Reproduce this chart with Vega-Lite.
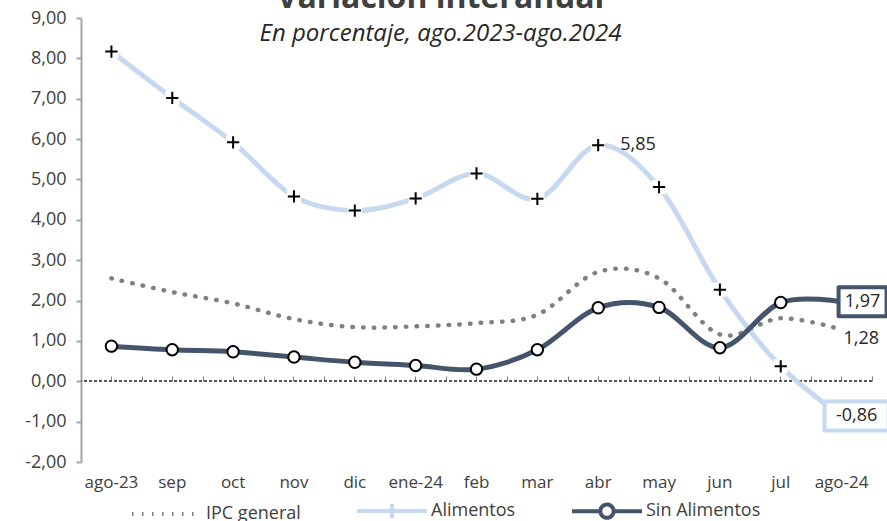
{
  "$schema": "https://vega.github.io/schema/vega-lite/v6.json",
  "autosize": {"type": "none"},
  "width": 791,
  "height": 444,
  "padding": {"left": 81, "top": 18, "right": 16, "bottom": 59},
  "background": "white",
  "config": {
    "font": "Open Sans",
    "view": {"stroke": null},
    "axis": {"labelFont": "Open Sans", "labelColor": "#404040", "grid": false}
  },
  "title": {
    "text": "Variación interanual",
    "subtitle": "En porcentaje, ago.2023-ago.2024",
    "anchor": "middle",
    "dx": -36,
    "offset": -38,
    "font": "Open Sans",
    "fontSize": 32,
    "fontWeight": "bold",
    "color": "#404040",
    "subtitleFont": "Open Sans",
    "subtitleFontSize": 24,
    "subtitleFontStyle": "italic",
    "subtitleColor": "#262626",
    "subtitlePadding": 7
  },
  "datasets": {
    "series": [
      {"mes": "ago-23", "serie": "IPC general", "valor": 2.55},
      {"mes": "sep", "serie": "IPC general", "valor": 2.21},
      {"mes": "oct", "serie": "IPC general", "valor": 1.93},
      {"mes": "nov", "serie": "IPC general", "valor": 1.54},
      {"mes": "dic", "serie": "IPC general", "valor": 1.34},
      {"mes": "ene-24", "serie": "IPC general", "valor": 1.36},
      {"mes": "feb", "serie": "IPC general", "valor": 1.44},
      {"mes": "mar", "serie": "IPC general", "valor": 1.65},
      {"mes": "abr", "serie": "IPC general", "valor": 2.71},
      {"mes": "may", "serie": "IPC general", "valor": 2.55},
      {"mes": "jun", "serie": "IPC general", "valor": 1.16},
      {"mes": "jul", "serie": "IPC general", "valor": 1.56},
      {"mes": "ago-24", "serie": "IPC general", "valor": 1.28},
      {"mes": "ago-23", "serie": "Alimentos", "valor": 8.17},
      {"mes": "sep", "serie": "Alimentos", "valor": 7.02},
      {"mes": "oct", "serie": "Alimentos", "valor": 5.92},
      {"mes": "nov", "serie": "Alimentos", "valor": 4.58},
      {"mes": "dic", "serie": "Alimentos", "valor": 4.23},
      {"mes": "ene-24", "serie": "Alimentos", "valor": 4.53},
      {"mes": "feb", "serie": "Alimentos", "valor": 5.15},
      {"mes": "mar", "serie": "Alimentos", "valor": 4.52},
      {"mes": "abr", "serie": "Alimentos", "valor": 5.85},
      {"mes": "may", "serie": "Alimentos", "valor": 4.81},
      {"mes": "jun", "serie": "Alimentos", "valor": 2.27},
      {"mes": "jul", "serie": "Alimentos", "valor": 0.37},
      {"mes": "ago-24", "serie": "Alimentos", "valor": -0.86},
      {"mes": "ago-23", "serie": "Sin Alimentos", "valor": 0.87},
      {"mes": "sep", "serie": "Sin Alimentos", "valor": 0.78},
      {"mes": "oct", "serie": "Sin Alimentos", "valor": 0.73},
      {"mes": "nov", "serie": "Sin Alimentos", "valor": 0.6},
      {"mes": "dic", "serie": "Sin Alimentos", "valor": 0.47},
      {"mes": "ene-24", "serie": "Sin Alimentos", "valor": 0.39},
      {"mes": "feb", "serie": "Sin Alimentos", "valor": 0.3},
      {"mes": "mar", "serie": "Sin Alimentos", "valor": 0.78},
      {"mes": "abr", "serie": "Sin Alimentos", "valor": 1.82},
      {"mes": "may", "serie": "Sin Alimentos", "valor": 1.83},
      {"mes": "jun", "serie": "Sin Alimentos", "valor": 0.83},
      {"mes": "jul", "serie": "Sin Alimentos", "valor": 1.95},
      {"mes": "ago-24", "serie": "Sin Alimentos", "valor": 1.97}
    ],
    "etiquetas": [
      {"mes": "abr", "serie": "Alimentos", "valor": 5.85, "texto": "5,85"},
      {"mes": "ago-24", "serie": "Sin Alimentos", "valor": 1.97, "texto": "1,97"},
      {"mes": "ago-24", "serie": "IPC general", "valor": 1.28, "texto": "1,28"},
      {"mes": "ago-24", "serie": "Alimentos", "valor": -0.86, "texto": "-0,86"}
    ]
  },
  "data": {"name": "series"},
  "resolve": {"axis": {"x": "independent"}},
  "layer": [
    {
      "mark": {"type": "rule", "color": "#595959", "strokeWidth": 1, "strokeDash": [3, 2]},
      "encoding": {
        "y": {"datum": 0, "type": "quantitative", "scale": {"domain": [-2, 9], "nice": false, "zero": false}}
      }
    },
    {
      "transform": [{"filter": "datum.serie == 'IPC general'"}],
      "mark": {"type": "text", "text": ""},
      "encoding": {
        "x": {"field": "mes", "type": "ordinal", "sort": null,
              "scale": {"type": "band", "domain": ["ago-23","sep","oct","nov","dic","ene-24","feb","mar","abr","may","jun","jul","ago-24"], "paddingInner": 0, "paddingOuter": 0},
              "axis": {"orient": "top", "offset": -363, "domain": false, "ticks": true, "tickBand": "extent", "tickSize": 5, "tickColor": "#7f7f7f", "tickWidth": 1, "labels": false, "title": null}},
        "y": {"field": "valor", "type": "quantitative"}
      }
    },
    {
      "transform": [{"filter": "datum.serie == 'IPC general'"}],
      "mark": {"type": "text", "text": ""},
      "encoding": {
        "x": {"field": "mes", "type": "ordinal", "sort": null,
              "axis": {"orient": "top", "offset": -363, "domain": false, "ticks": true, "tickSize": 5, "tickColor": "#7f7f7f", "tickWidth": 1, "labels": false, "title": null}},
        "y": {"field": "valor", "type": "quantitative"}
      }
    },
    {
      "transform": [{"filter": "datum.serie == 'IPC general'"}],
      "mark": {"type": "line", "interpolate": "cardinal", "color": "#808080", "strokeWidth": 4.5, "strokeDash": [0.5, 10.2], "strokeCap": "round"},
      "encoding": {
        "x": {"field": "mes", "type": "ordinal", "sort": null,
              "axis": {"orient": "bottom", "domain": false, "ticks": false, "labelPadding": 12, "labelFontSize": 17, "labelAngle": 0, "labelColor": "#404040", "title": null}},
        "y": {"field": "valor", "type": "quantitative",
              "axis": {"values": [-2,-1,0,1,2,3,4,5,6,7,8,9],
                       "labelExpr": "replace(replace(format(datum.value, '.2f'), '.', ','), '\u2212', '-')",
                       "domainColor": "#a6a6a6", "domainWidth": 2, "tickColor": "#a6a6a6", "tickWidth": 2, "tickSize": 5,
                       "labelPadding": 10, "labelFontSize": 18, "labelColor": "#404040", "title": null, "grid": false}}
      }
    },
    {
      "transform": [{"filter": "datum.serie == 'Alimentos'"}],
      "mark": {"type": "line", "interpolate": "cardinal", "color": "#c6d9f1", "strokeWidth": 5},
      "encoding": {
        "x": {"field": "mes", "type": "ordinal", "sort": null, "axis": null},
        "y": {"field": "valor", "type": "quantitative"}
      }
    },
    {
      "transform": [{"filter": "datum.serie == 'Sin Alimentos'"}],
      "mark": {"type": "line", "interpolate": "cardinal", "color": "#44546a", "strokeWidth": 5, "strokeCap": "round"},
      "encoding": {
        "x": {"field": "mes", "type": "ordinal", "sort": null, "axis": null},
        "y": {"field": "valor", "type": "quantitative"}
      }
    },
    {
      "transform": [{"filter": "datum.serie == 'Alimentos' && datum.mes != 'ago-24'"}],
      "mark": {"type": "point", "shape": "square", "filled": true, "color": "white", "opacity": 1, "size": 200},
      "encoding": {
        "x": {"field": "mes", "type": "ordinal", "sort": null, "axis": null},
        "y": {"field": "valor", "type": "quantitative"}
      }
    },
    {
      "transform": [{"filter": "datum.serie == 'Alimentos' && datum.mes != 'ago-24'"}],
      "mark": {"type": "point", "shape": "M-1,0H1M0,-1V1", "filled": false, "color": "black", "opacity": 1, "strokeWidth": 2, "size": 150},
      "encoding": {
        "x": {"field": "mes", "type": "ordinal", "sort": null, "axis": null},
        "y": {"field": "valor", "type": "quantitative"}
      }
    },
    {
      "transform": [{"filter": "datum.serie == 'Sin Alimentos' && datum.mes != 'ago-24'"}],
      "mark": {"type": "point", "shape": "circle", "filled": true, "fill": "white", "stroke": "black", "strokeWidth": 2, "opacity": 1, "size": 130},
      "encoding": {
        "x": {"field": "mes", "type": "ordinal", "sort": null, "axis": null},
        "y": {"field": "valor", "type": "quantitative"}
      }
    },
    {
      "data": {"name": "etiquetas"},
      "transform": [{"filter": "datum.serie == 'Sin Alimentos'"}],
      "mark": {"type": "point", "shape": "M-1,-0.604H1V0.604H-1Z", "filled": true, "fill": "white", "stroke": "#44546a", "strokeWidth": 4, "strokeJoin": "round", "opacity": 1, "size": 2304, "xOffset": 21},
      "encoding": {
        "x": {"field": "mes", "type": "ordinal", "sort": null, "axis": null},
        "y": {"field": "valor", "type": "quantitative"}
      }
    },
    {
      "data": {"name": "etiquetas"},
      "transform": [{"filter": "datum.serie == 'Alimentos' && datum.mes == 'ago-24'"}],
      "mark": {"type": "point", "shape": "M-1,-0.453H1V0.453H-1Z", "filled": true, "fill": "white", "stroke": "#c6d9f1", "strokeWidth": 4, "strokeJoin": "round", "opacity": 1, "size": 4096, "xOffset": 15},
      "encoding": {
        "x": {"field": "mes", "type": "ordinal", "sort": null, "axis": null},
        "y": {"field": "valor", "type": "quantitative"}
      }
    },
    {
      "data": {"name": "etiquetas"},
      "transform": [{"filter": "datum.serie == 'Sin Alimentos'"}],
      "mark": {"type": "text", "align": "center", "baseline": "middle", "dx": 21, "fontSize": 18, "color": "#262626", "font": "Open Sans"},
      "encoding": {
        "x": {"field": "mes", "type": "ordinal", "sort": null, "axis": null},
        "y": {"field": "valor", "type": "quantitative"},
        "text": {"field": "texto"}
      }
    },
    {
      "data": {"name": "etiquetas"},
      "transform": [{"filter": "datum.serie == 'Alimentos' && datum.mes == 'ago-24'"}],
      "mark": {"type": "text", "align": "center", "baseline": "middle", "dx": 15, "fontSize": 18, "color": "#262626", "font": "Open Sans"},
      "encoding": {
        "x": {"field": "mes", "type": "ordinal", "sort": null, "axis": null},
        "y": {"field": "valor", "type": "quantitative"},
        "text": {"field": "texto"}
      }
    },
    {
      "data": {"name": "etiquetas"},
      "transform": [{"filter": "datum.serie == 'IPC general'"}],
      "mark": {"type": "text", "align": "left", "baseline": "middle", "dx": 2, "dy": 9, "fontSize": 18, "color": "#262626", "font": "Open Sans"},
      "encoding": {
        "x": {"field": "mes", "type": "ordinal", "sort": null, "axis": null},
        "y": {"field": "valor", "type": "quantitative"},
        "text": {"field": "texto"}
      }
    },
    {
      "data": {"name": "etiquetas"},
      "transform": [{"filter": "datum.mes == 'abr'"}],
      "mark": {"type": "text", "align": "left", "baseline": "middle", "dx": 22, "fontSize": 18, "color": "#262626", "font": "Open Sans"},
      "encoding": {
        "x": {"field": "mes", "type": "ordinal", "sort": null, "axis": null},
        "y": {"field": "valor", "type": "quantitative"},
        "text": {"field": "texto"}
      }
    },
    {
      "transform": [{"filter": "false"}],
      "mark": {"type": "point", "filled": false, "opacity": 1, "strokeWidth": 4, "strokeCap": "round"},
      "encoding": {
        "fill": {"value": "white"},
        "stroke": {"field": "serie", "type": "nominal",
                   "scale": {"domain": ["IPC general", "Alimentos", "Sin Alimentos"], "range": ["#808080", "#c6d9f1", "#44546a"]},
                   "legend": {"title": null, "orient": "none", "legendX": 49, "legendY": 456, "direction": "horizontal", "symbolSize": 4900, "symbolStrokeWidth": 4,
                              "labelFontSize": 18, "labelColor": "#404040", "labelFont": "Open Sans", "labelOffset": 2, "columnPadding": 48}},
        "shape": {"field": "serie", "type": "nominal",
                  "scale": {"domain": ["IPC general", "Alimentos", "Sin Alimentos"],
                            "range": ["M-1,0H1", "M-1,0H1M0,-0.2V0.2", "M-1,0H-0.19M0.19,0H1M0.19,0A0.19,0.19,0,1,1,-0.19,0A0.19,0.19,0,1,1,0.19,0"]},
                  "legend": {"title": null}},
        "strokeDash": {"field": "serie", "type": "nominal",
                       "scale": {"domain": ["IPC general", "Alimentos", "Sin Alimentos"], "range": [[1.5, 8.5], [1, 0], [1, 0]]},
                       "legend": {"title": null}}
      }
    }
  ]
}
